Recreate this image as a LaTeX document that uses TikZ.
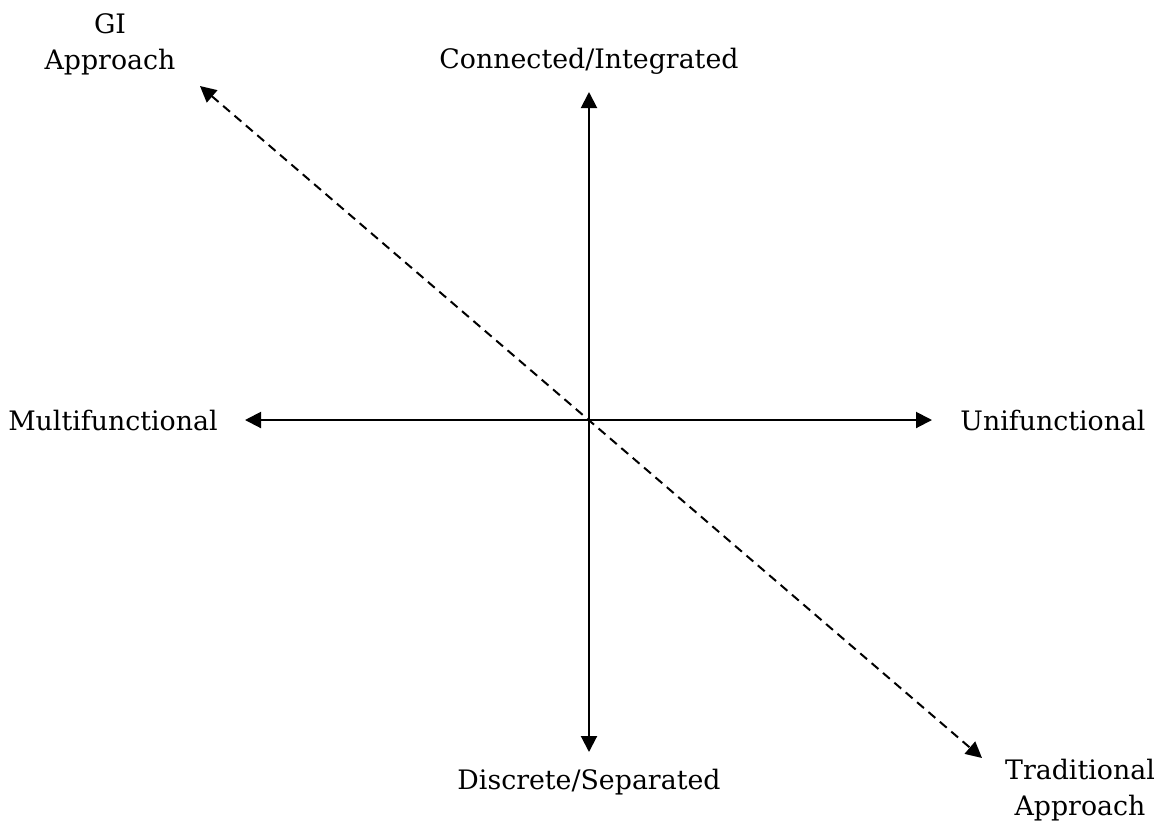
\documentclass[tikz,border=0pt]{standalone}
\usepackage{fontspec}
\setmainfont{DejaVu Serif}
\usetikzlibrary{positioning,arrows.meta}

\begin{document}
\begin{tikzpicture}[
x=0.5pt,
y=-0.5pt,
every node/.style={
    inner sep=0pt,
    align=center,
    font=\fontsize{13.4}{18}\selectfont
},
axisline/.style={line width=1pt},
trendline/.style={line width=1pt, dash pattern=on 4.5pt off 3pt},
>={Triangle[length=8pt,width=8pt]}
]

\useasboundingbox (0,0) rectangle (1163,827);

% arrow tips
\coordinate (top) at (589,92);
\coordinate (bottom) at (589,752);
\coordinate (west) at (245,420);
\coordinate (east) at (932,420);
\coordinate (gi end) at (200,86);
\coordinate (trad end) at (982,758);

% axis labels
\node (conn) [above=8.5pt of top] {Connected/Integrated};
\node (disc) [below=8.5pt of bottom] {Discrete/Separated};
\node (multi) [left=13.5pt of west] {Multifunctional};
\node (uni) [right=14pt of east] {Unifunctional};

\node (gi) [anchor=north] at (110,13) {GI\\Approach};
\node (trad) [anchor=north] at (1080,759) {Traditional\\Approach};

\draw[<->,axisline] (top)--(bottom);
\draw[<->,axisline] (west)--(east);
\draw[<->,trendline] (gi end)--(trad end);

\end{tikzpicture}
\end{document}
